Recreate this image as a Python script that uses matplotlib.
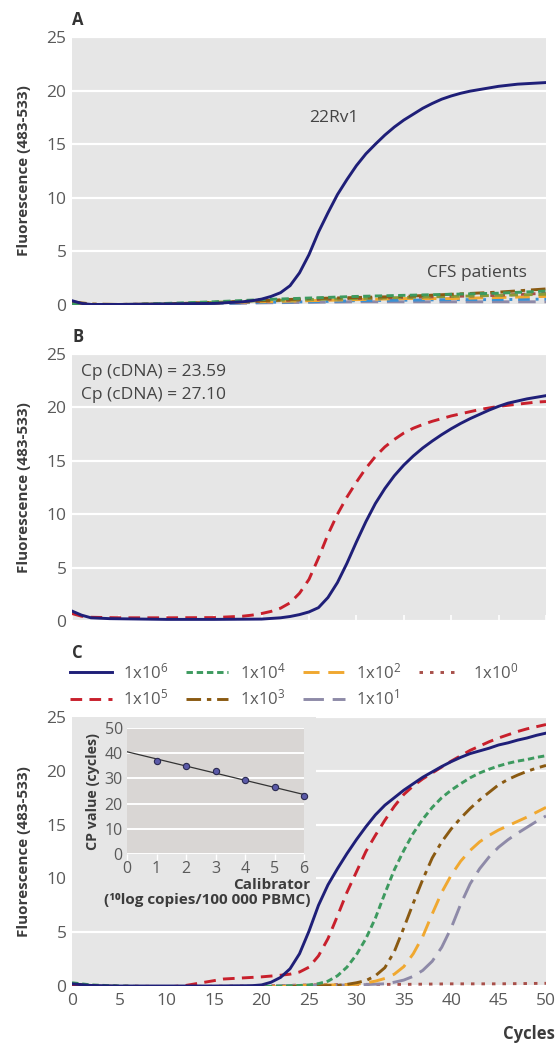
import matplotlib
matplotlib.use("Agg")
import matplotlib.pyplot as plt
import numpy as np
from matplotlib.patches import Rectangle

plt.rcParams['font.family'] = ['Open Sans', 'DejaVu Sans']
plt.rcParams['mathtext.fontset'] = 'custom'
plt.rcParams['mathtext.rm'] = 'Open Sans'
plt.rcParams['mathtext.it'] = 'Open Sans'

# ---------------- data ----------------
# Panel A: 22Rv1 positive control
a_cyc = [0, 1, 2, 5, 10, 15, 18, 19, 20, 21, 22, 23, 24, 25, 26, 27, 28, 29, 30, 31, 32, 33, 34, 35, 36, 37,
         38, 39, 40, 41, 42, 43, 44, 45, 46, 47, 48, 49, 50]
a_22rv1 = [0.4, 0.15, 0.05, 0.05, 0.1, 0.15, 0.3, 0.4, 0.55, 0.8, 1.15, 1.8, 3.0, 4.7, 6.8, 8.6, 10.3, 11.7,
           13.0, 14.1, 15.0, 15.85, 16.6, 17.25, 17.8, 18.35, 18.8, 19.2, 19.5, 19.75, 19.95, 20.1, 20.25,
           20.4, 20.5, 20.6, 20.65, 20.7, 20.75]
# Panel A: CFS patients
cfs_cyc = [0, 2, 5, 10, 15, 20, 25, 30, 35, 40, 45, 50]
cfs_green = [0.1, -0.2, 0.0, 0.15, 0.3, 0.5, 0.65, 0.8, 0.9, 1.0, 1.1, 1.3]
cfs_brown = [0.3, 0.1, 0.05, 0.1, 0.25, 0.4, 0.6, 0.7, 0.8, 1.0, 1.2, 1.5]
cfs_orange = [0.2, 0.05, 0.05, 0.1, 0.2, 0.3, 0.4, 0.5, 0.6, 0.6, 0.7, 0.8]
cfs_purple = [0.1, 0.0, 0.05, 0.05, 0.1, 0.2, 0.25, 0.3, 0.3, 0.3, 0.3, 0.3]
cfs_blue = [0.2, 0.05, 0.05, 0.1, 0.15, 0.25, 0.3, 0.4, 0.45, 0.5, 0.5, 0.55]
cfs_red = [0.2, 0.05, 0.05, 0.1, 0.2, 0.35, 0.5, 0.6, 0.7, 0.8, 0.9, 1.1]
cfs_olive = [0.0, -0.15, 0.0, 0.1, 0.25, 0.4, 0.5, 0.6, 0.7, 0.8, 0.9, 1.0]

# Panel B
b_cyc_blue = [0, 1, 2, 4, 10, 15, 20, 22, 23, 24, 25, 26, 27, 28, 29, 30, 31, 32, 33, 34, 35, 36, 37, 38, 39,
              40, 41, 42, 43, 44, 45, 46, 47, 48, 49, 50]
b_blue = [0.93, 0.55, 0.3, 0.22, 0.15, 0.15, 0.18, 0.3, 0.42, 0.6, 0.85, 1.25, 2.2, 3.6, 5.4, 7.4, 9.3, 11.0,
          12.4, 13.6, 14.6, 15.45, 16.2, 16.85, 17.45, 18.0, 18.5, 18.95, 19.35, 19.75, 20.1, 20.4, 20.6,
          20.8, 20.95, 21.1]
b_cyc_red = [0, 1, 2, 5, 10, 15, 18, 19, 20, 21, 22, 23, 24, 25, 26, 27, 28, 29, 30, 31, 32, 33, 34, 35, 36,
             37, 38, 39, 40, 41, 42, 43, 44, 45, 46, 47, 48, 49, 50]
b_red = [0.7, 0.45, 0.35, 0.3, 0.3, 0.32, 0.45, 0.55, 0.7, 0.9, 1.2, 1.7, 2.6, 3.9, 5.9, 8.1, 10.0, 11.6,
         13.0, 14.3, 15.4, 16.3, 17.0, 17.6, 18.05, 18.4, 18.7, 18.95, 19.2, 19.4, 19.6, 19.8, 19.95, 20.1,
         20.2, 20.3, 20.4, 20.5, 20.55]
b_texts = ["Cp (cDNA) = 23.59", "Cp (cDNA) = 27.10"]

# Panel C: dilution series
c6_x = [0, 2, 5, 10, 15, 19, 20, 21, 22, 23, 24, 25, 26, 27, 28, 29, 30, 31, 32, 33, 34, 35, 36, 37, 38, 39,
        40, 41, 42, 43, 44, 45, 46, 47, 48, 49, 50]
c6_y = [0.2, 0.05, 0.0, 0.0, 0.0, 0.03, 0.1, 0.35, 0.8, 1.6, 3.0, 5.1, 7.5, 9.4, 10.9, 12.3, 13.6, 14.8, 15.9,
        16.8, 17.5, 18.2, 18.8, 19.4, 19.9, 20.4, 20.85, 21.25, 21.6, 21.85, 22.1, 22.4, 22.6, 22.85, 23.05,
        23.3, 23.5]
c5_x = [0, 2, 5, 8, 10, 12, 13, 14, 15, 16, 18, 20, 22, 23, 24, 25, 26, 27, 28, 29, 30, 31, 32, 33, 34, 35,
        36, 37, 38, 39, 40, 41, 42, 43, 44, 45, 46, 47, 48, 49, 50]
c5_y = [0.1, 0.0, -0.15, -0.15, -0.1, 0.05, 0.2, 0.35, 0.5, 0.65, 0.75, 0.85, 1.0, 1.1, 1.3, 1.75, 2.8, 4.4,
        6.5, 8.7, 10.6, 12.5, 14.0, 15.4, 16.7, 17.8, 18.6, 19.25, 19.8, 20.35, 20.9, 21.4, 21.9, 22.3, 22.7,
        23.05, 23.35, 23.65, 23.9, 24.1, 24.3]
c4_x = [0, 2, 5, 10, 15, 20, 24, 25, 26, 27, 28, 29, 30, 31, 32, 33, 34, 35, 36, 37, 38, 39, 40, 41, 42, 43,
        44, 45, 46, 47, 48, 49, 50]
c4_y = [0.3, 0.1, 0.0, -0.1, -0.1, -0.05, 0.05, 0.1, 0.22, 0.45, 0.95, 1.75, 2.9, 4.4, 6.3, 8.6, 10.8, 12.6,
        14.2, 15.5, 16.6, 17.5, 18.2, 18.8, 19.35, 19.8, 20.15, 20.45, 20.7, 20.9, 21.05, 21.25, 21.4]
c3_x = [0, 2, 5, 10, 15, 20, 25, 28, 29, 30, 31, 32, 33, 34, 35, 36, 37, 38, 39, 40, 41, 42, 43, 44, 45, 46,
        47, 48, 49, 50]
c3_y = [0.2, 0.05, -0.05, -0.15, -0.15, -0.1, 0.0, 0.05, 0.15, 0.3, 0.5, 0.95, 1.7, 3.2, 5.4, 7.7, 9.9, 11.9,
        13.4, 14.6, 15.6, 16.5, 17.3, 18.0, 18.7, 19.2, 19.6, 19.95, 20.25, 20.5]
c2_x = [0, 2, 5, 10, 15, 20, 25, 30, 31, 32, 33, 34, 35, 36, 37, 38, 39, 40, 41, 42, 43, 44, 45, 46, 47, 48,
        49, 50]
c2_y = [0.1, 0.0, -0.1, -0.15, -0.15, -0.1, 0.05, 0.15, 0.3, 0.45, 0.7, 1.1, 1.8, 3.0, 4.6, 6.7, 8.7, 10.3,
        11.6, 12.6, 13.4, 14.0, 14.5, 14.9, 15.3, 15.7, 16.15, 16.6]
c1_x = [0, 2, 5, 10, 15, 20, 25, 30, 33, 34, 35, 36, 37, 38, 39, 40, 41, 42, 43, 44, 45, 46, 47, 48, 49, 50]
c1_y = [0.1, 0.0, -0.1, -0.1, -0.05, 0.0, 0.05, 0.1, 0.2, 0.35, 0.55, 0.9, 1.45, 2.3, 3.6, 5.4, 7.6, 9.5,
        10.9, 12.0, 12.9, 13.6, 14.2, 14.75, 15.3, 15.8]
c0_x = [0, 5, 10, 20, 25, 30, 35, 40, 45, 50]
c0_y = [0.1, 0.0, -0.05, 0.0, 0.1, 0.15, 0.15, 0.2, 0.2, 0.25]
c_labels = ["1x10$^{6}$", "1x10$^{5}$", "1x10$^{4}$", "1x10$^{3}$", "1x10$^{2}$", "1x10$^{1}$", "1x10$^{0}$"]

# Inset calibration
calib = [1, 2, 3, 4, 5, 6]
cp_vals = [37, 35, 33, 29.5, 26.5, 23]

y_ticks = [0, 5, 10, 15, 20, 25]
x_ticks = [0, 5, 10, 15, 20, 25, 30, 35, 40, 45, 50]

# ---------------- style ----------------
BG = '#e6e6e6'
INSET_BG = '#d9d6d4'
TICK_C = '#5a5a5a'
LAB_C = '#3c3c3c'
NAVY = '#1f1f78'
RED = '#c8202c'
GREEN = '#3d9a5f'
BROWN = '#8a5a12'
ORANGE = '#f0a830'
PURPLE = '#8e8aa8'
DOTRED = '#a8504a'
BLUE = '#3a90d4'
OLIVE = '#8a9a38'

TICK_FS = 12.5
TXT_FS = 12.5

fig = plt.figure(figsize=(5.55, 10.45), dpi=100)

def px_axes(l, t, r, b):
    W, H = 555, 1045
    return fig.add_axes([l / W, 1 - b / H, (r - l) / W, (b - t) / H])

def style(ax, xlabels=False):
    ax.set_facecolor(BG)
    ax.set_xlim(0, 50)
    ax.set_ylim(0, 25)
    ax.set_yticks(y_ticks)
    ax.set_xticks(x_ticks)
    for s in ax.spines.values():
        s.set_visible(False)
    ax.set_axisbelow(True)
    ax.yaxis.grid(True, color='white', lw=1.6)
    ax.tick_params(axis='y', length=0, labelsize=TICK_FS, labelcolor=TICK_C, pad=4)
    if xlabels:
        ax.tick_params(axis='x', length=0, labelsize=TICK_FS, labelcolor=TICK_C, pad=5)
    else:
        ax.tick_params(axis='x', length=0, labelbottom=False)
    ax.set_ylabel("Fluorescence (483-533)", fontsize=11, fontweight='bold', color=LAB_C, labelpad=11)

LW = 2.1
L, R = 72, 546

axA = px_axes(L, 37, R, 305)
style(axA)
axA.plot(cfs_cyc, cfs_purple, color=PURPLE, lw=LW, dashes=(6, 3))
axA.plot(cfs_cyc, cfs_blue, color=BLUE, lw=LW, dashes=(4, 2, 1, 2))
axA.plot(cfs_cyc, cfs_orange, color=ORANGE, lw=LW, dashes=(5, 3))
axA.plot(cfs_cyc, cfs_red, color=DOTRED, lw=LW, dashes=(1.5, 2))
axA.plot(cfs_cyc, cfs_olive, color=OLIVE, lw=LW, dashes=(3, 2))
axA.plot(cfs_cyc, cfs_brown, color=BROWN, lw=LW, dashes=(5, 2, 1.5, 2))
axA.plot(cfs_cyc, cfs_green, color=GREEN, lw=LW, dashes=(2.5, 1.5))
axA.plot(a_cyc, a_22rv1, color=NAVY, lw=LW)
axA.text(27.6, 17.4, "22Rv1", fontsize=TXT_FS, color='#444444', ha='center', va='center')
axA.text(42.7, 3.0, "CFS patients", fontsize=TXT_FS, color='#444444', ha='center', va='center')
fig.text(72 / 555, 1 - 20 / 1045, "A", fontsize=12, fontweight='bold', color='#333333', ha='left', va='center')

axB = px_axes(L, 354, R, 621)
style(axB)
axB.tick_params(axis='x', length=4, direction='in', color='white', width=1.2)
axB.plot(b_cyc_red, b_red, color=RED, lw=LW, dashes=(4, 2.5))
axB.plot(b_cyc_blue, b_blue, color=NAVY, lw=LW)
axB.text(1.0, 23.3, b_texts[0], fontsize=TXT_FS, color='#444444', ha='left', va='center')
axB.text(1.0, 21.2, b_texts[1], fontsize=TXT_FS, color='#444444', ha='left', va='center')
fig.text(72 / 555, 1 - 337 / 1045, "B", fontsize=12, fontweight='bold', color='#333333', ha='left', va='center')

axC = px_axes(L, 717, R, 986)
style(axC, xlabels=True)
axC.add_patch(Rectangle((0, 6.1), 25.7, 19.5, facecolor=BG, edgecolor='none', zorder=1))
h6, = axC.plot(c6_x, c6_y, color=NAVY, lw=LW, zorder=9)
h5, = axC.plot(c5_x, c5_y, color=RED, lw=LW, dashes=(4, 2.5), zorder=8)
h4, = axC.plot(c4_x, c4_y, color=GREEN, lw=LW, dashes=(2.2, 1.3), zorder=7)
h3, = axC.plot(c3_x, c3_y, color=BROWN, lw=LW, dashes=(5, 2, 1.5, 2), zorder=6)
h2, = axC.plot(c2_x, c2_y, color=ORANGE, lw=LW, dashes=(5.5, 3), zorder=5)
h1, = axC.plot(c1_x, c1_y, color=PURPLE, lw=LW, dashes=(7, 3), zorder=4)
h0, = axC.plot(c0_x, c0_y, color=DOTRED, lw=LW, dashes=(1.2, 2.4), zorder=3)
fig.text(72 / 555, 1 - 653 / 1045, "C", fontsize=12, fontweight='bold', color='#333333', ha='left', va='center')
fig.text(1.0, 1 - 1034 / 1045, "Cycles", fontsize=12, fontweight='bold', color=LAB_C, ha='right', va='center')

leg = fig.legend([h6, h5, h4, h3, h2, h1, h0], c_labels, ncol=4, frameon=False,
                 loc='upper left', bbox_to_anchor=(70 / 555, 1 - 662 / 1045),
                 fontsize=12, handlelength=2.5, handletextpad=0.7, columnspacing=1.05,
                 labelspacing=0.4, borderpad=0, borderaxespad=0)
for t in leg.get_texts():
    t.set_color(TICK_C)

# Inset
axI = px_axes(127, 728, 304, 854)
axI.set_facecolor(INSET_BG)
for s in axI.spines.values():
    s.set_visible(False)
axI.set_xlim(0, 6)
axI.set_ylim(0, 50)
axI.set_xticks([0, 1, 2, 3, 4, 5, 6])
axI.set_yticks([0, 10, 20, 30, 40, 50])
axI.set_axisbelow(True)
axI.yaxis.grid(True, color='white', lw=1.4)
axI.tick_params(axis='x', length=4, direction='out', color='white', width=1, labelsize=11.5,
                labelcolor=TICK_C, pad=1)
axI.tick_params(axis='y', length=0, labelsize=11.5, labelcolor=TICK_C, pad=3)
slope, icpt = np.polyfit(calib, cp_vals, 1)
xx = np.array([0, 6])
axI.plot(xx, slope * xx + icpt, color='#333333', lw=0.9)
axI.plot(calib, cp_vals, 'o', ms=4.5, mfc='#5b5aa8', mec='#2a2a50', mew=0.8, clip_on=False, zorder=5)
axI.set_ylabel("CP value (cycles)", fontsize=10.3, fontweight='bold', color=LAB_C, labelpad=3)
fig.text(310 / 555, 1 - 878 / 1045, "Calibrator\n(¹⁰log copies/100 000 PBMC)", fontsize=11,
         fontweight='bold', color=LAB_C, ha='right', va='top', linespacing=1.05)

fig.savefig("out.png", dpi=100)
